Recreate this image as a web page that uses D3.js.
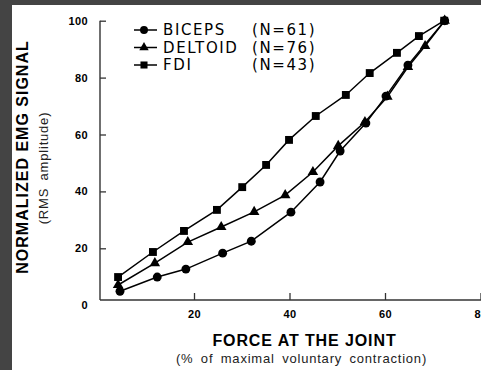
<!DOCTYPE html>
<html>
<head>
<meta charset="utf-8">
<script src="https://cdn.jsdelivr.net/npm/d3@7"></script>
<style>
  html, body { margin: 0; padding: 0; background: #444; }
  svg { display: block; }
  .tick text { font-family: "Liberation Sans", Arial, sans-serif; font-weight: bold; font-size: 11px; fill: #000; }
  .tick line { stroke: #333; stroke-width: 1.3; }
</style>
</head>
<body>
<div id="chart"></div>
<script>
// values
var forceTicks = [20, 40, 60, 80];
var emgTicks = [0, 20, 40, 60, 80, 100];
var muscles = ["BICEPS", "DELTOID", "FDI"];
var counts = [61, 76, 43];
var bicepsForce = [4.5, 12.3, 18.3, 26, 32, 40.3, 46.4, 50.6, 56, 60.2, 64.8, 72.5];
var bicepsEmg = [4.9, 9.9, 12.7, 18.3, 22.5, 32.7, 43.3, 54.2, 64, 73.5, 84.4, 100];
var deltoidForce = [4.1, 11.8, 18.7, 25.7, 32.6, 39.1, 44.9, 50.2, 55.8, 60.5, 64.8, 68.4, 72.5];
var deltoidEmg = [7.1, 14.8, 22.2, 27.5, 32.8, 38.7, 46.8, 56, 64.4, 73.3, 83.7, 91.1, 100];
var fdiForce = [4.1, 11.4, 17.9, 24.8, 30.1, 35.1, 39.9, 45.5, 51.8, 56.8, 62.5, 67.1, 72.4];
var fdiEmg = [9.9, 18.7, 26.1, 33.5, 41.5, 49.3, 58.1, 66.5, 73.9, 81.6, 88.7, 94.6, 100];

var W = 481, H = 370;
var axisY = 300, axisX = 100;

var series = [
  { name: muscles[0], n: counts[0], shape: d3.symbolCircle, size: 62, pts: d3.zip(bicepsForce, bicepsEmg) },
  { name: muscles[1], n: counts[1], shape: d3.symbolTriangle, size: 48, pts: d3.zip(deltoidForce, deltoidEmg) },
  { name: muscles[2], n: counts[2], shape: d3.symbolSquare, size: 62, pts: d3.zip(fdiForce, fdiEmg) }
];

var svg = d3.select("#chart").append("svg").attr("width", W).attr("height", H);
svg.append("rect").attr("x", 12).attr("y", 5).attr("width", W - 12).attr("height", H - 5).attr("fill", "#fff");

var x = d3.scaleLinear().domain([0, 80]).range([98.5, 480.5]);
var y = d3.scaleLinear().domain([0, 100]).range([305.2, 20.7]);

// axes
var xAxis = d3.axisBottom(x).tickValues(forceTicks).tickSizeInner(-7).tickSizeOuter(0).tickPadding(10);
var gx = svg.append("g").attr("transform", "translate(0," + axisY + ")").call(xAxis);
gx.select(".domain").remove();

var yAxis = d3.axisLeft(y).tickValues(emgTicks).tickSizeInner(-6).tickSizeOuter(0).tickPadding(12);
var gy = svg.append("g").attr("transform", "translate(" + axisX + ",0)").call(yAxis);
gy.select(".domain").remove();
gy.selectAll(".tick").filter(function(d) { return d === 0; }).select("line").remove();
svg.selectAll(".tick text").attr("letter-spacing", 0.4);

svg.append("line").attr("x1", axisX).attr("x2", W).attr("y1", axisY).attr("y2", axisY)
  .attr("stroke", "#333").attr("stroke-width", 1.4);
svg.append("line").attr("x1", axisX).attr("x2", axisX).attr("y1", y(100)).attr("y2", axisY)
  .attr("stroke", "#333").attr("stroke-width", 1.4);

// series
var line = d3.line().x(function(d) { return x(d[0]); }).y(function(d) { return y(d[1]); });
series.forEach(function(s) {
  svg.append("path").attr("d", line(s.pts)).attr("fill", "none").attr("stroke", "#000").attr("stroke-width", 1.5);
  svg.selectAll(null).data(s.pts).enter().append("path")
    .attr("transform", function(d) { return "translate(" + x(d[0]) + "," + y(d[1]) + ")"; })
    .attr("d", d3.symbol().type(s.shape).size(s.size))
    .attr("fill", "#000");
});

// legend
var legend = svg.append("g").attr("transform", "translate(134,30)");
series.forEach(function(s, i) {
  var row = legend.append("g").attr("transform", "translate(0," + (i * 17.5) + ")");
  row.append("line").attr("x1", 0).attr("x2", 23).attr("stroke", "#000").attr("stroke-width", 1.5);
  row.append("path").attr("transform", "translate(10,0)").attr("d", d3.symbol().type(s.shape).size(s.size * 0.8)).attr("fill", "#000");
  row.append("text").attr("x", 29).attr("dy", "0.36em").text(s.name)
    .attr("font-family", "DejaVu Sans, sans-serif").attr("font-size", 15).attr("letter-spacing", 1.6);
  row.append("text").attr("x", 118).attr("dy", "0.36em").text("(N=" + s.n + ")")
    .attr("font-family", "DejaVu Sans, sans-serif").attr("font-size", 15).attr("letter-spacing", 1.6);
});

// axis titles
svg.append("text").attr("transform", "translate(28,157) rotate(-90)").attr("text-anchor", "middle")
  .attr("font-family", "Liberation Sans, Arial, sans-serif").attr("font-weight", "bold").attr("font-size", 16)
  .attr("letter-spacing", 1).text("NORMALIZED EMG SIGNAL");
svg.append("text").attr("transform", "translate(48,168) rotate(-90)").attr("text-anchor", "middle")
  .attr("font-family", "Liberation Sans, Arial, sans-serif").attr("font-size", 13).attr("fill", "#222")
  .attr("letter-spacing", 0.8).attr("word-spacing", 3).text("(RMS amplitude)");
svg.append("text").attr("x", 304.5).attr("y", 346).attr("text-anchor", "middle")
  .attr("font-family", "Liberation Sans, Arial, sans-serif").attr("font-weight", "bold").attr("font-size", 16)
  .attr("letter-spacing", 0.9).text("FORCE AT THE JOINT");
svg.append("text").attr("x", 301.5).attr("y", 363).attr("text-anchor", "middle")
  .attr("font-family", "Liberation Sans, Arial, sans-serif").attr("font-size", 13).attr("fill", "#222")
  .attr("letter-spacing", 0.8).attr("word-spacing", 3).text("(% of maximal voluntary contraction)");
</script>
</body>
</html>
